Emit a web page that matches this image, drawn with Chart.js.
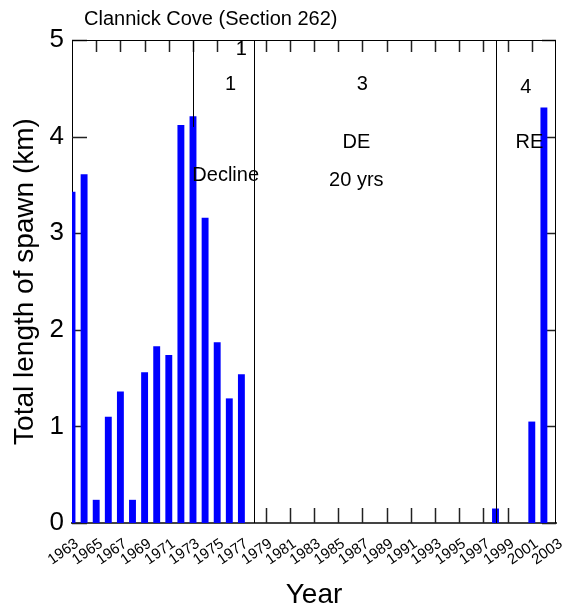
<!DOCTYPE html>
<html>
<head>
<meta charset="utf-8">
<script src="https://cdn.jsdelivr.net/npm/chart.js@4/dist/chart.umd.min.js"></script>
<style>
  html, body { margin: 0; padding: 0; background: #fff; }
  .chart-wrapper { position: relative; width: 565px; height: 609px; }
</style>
</head>
<body>
<div class="chart-wrapper"><canvas id="spawn-chart"></canvas></div>
<script>
const FONT = '"Liberation Sans", Arial, sans-serif';

const YEARS = [
  1963, 1964, 1965, 1966, 1967, 1968, 1969, 1970, 1971, 1972,
  1973, 1974, 1975, 1976, 1977, 1978, 1979, 1980, 1981, 1982,
  1983, 1984, 1985, 1986, 1987, 1988, 1989, 1990, 1991, 1992,
  1993, 1994, 1995, 1996, 1997, 1998, 1999, 2000, 2001, 2002,
];
const SPAWN_KM = [
  3.43, 3.61, 0.24, 1.10, 1.36, 0.24, 1.56, 1.83, 1.74, 4.12,
  4.21, 3.16, 1.87, 1.29, 1.54, 0, 0, 0, 0, 0,
  0, 0, 0, 0, 0, 0, 0, 0, 0, 0,
  0, 0, 0, 0, 0, 0.15, 0, 0, 1.05, 4.30,
];

const YEAR_MIN = 1963;
const YEAR_MAX = 2003;
const KM_MAX = 5;

// period dividers: year, top value, bottom value
const DIVIDER_YEARS = [1973, 1978, 1998];
const DIVIDER_BOTTOM = [4.1, 0, 0];

// text notes inside the plot
const NOTE_TEXT = ['1', '1', 'Decline', '3', 'DE', '20 yrs', '4', 'RE'];
const NOTE_YEAR = [1977, 1976.1, 1975.7, 1987, 1986.5, 1986.5, 2000.5, 2000.8];
const NOTE_KM = [4.9, 4.54, 3.60, 4.54, 3.94, 3.55, 4.51, 3.94];

const frame = {
  id: 'frame',
  beforeDatasetsDraw(chart) {
    const { ctx, chartArea: a, scales: { x, y } } = chart;
    ctx.save();
    ctx.strokeStyle = '#222';
    ctx.lineWidth = 1.5;
    ctx.beginPath();
    x.ticks.forEach(t => {
      if (t.value <= YEAR_MIN || t.value >= YEAR_MAX) return;
      const px = Math.round(x.getPixelForValue(t.value)) + 0.5;
      ctx.moveTo(px, a.top); ctx.lineTo(px, a.top + 12);
      ctx.moveTo(px, a.bottom); ctx.lineTo(px, a.bottom - 15);
    });
    y.ticks.forEach(t => {
      const py = Math.round(y.getPixelForValue(t.value)) + 0.5;
      ctx.moveTo(a.left, py); ctx.lineTo(a.left + 15, py);
      ctx.moveTo(a.right, py); ctx.lineTo(a.right - 14, py);
    });
    ctx.stroke();
    ctx.restore();
  },
  afterDatasetsDraw(chart) {
    const { ctx, chartArea: a, scales: { x, y } } = chart;
    ctx.save();
    ctx.strokeStyle = '#000';
    ctx.lineWidth = 1;
    ctx.beginPath();
    ctx.moveTo(a.left, a.top + 0.5); ctx.lineTo(a.right, a.top + 0.5);
    ctx.moveTo(a.right - 0.5, a.top); ctx.lineTo(a.right - 0.5, a.bottom);
    DIVIDER_YEARS.forEach((yr, i) => {
      const px = Math.round(x.getPixelForValue(yr)) + 0.5;
      ctx.moveTo(px, y.getPixelForValue(KM_MAX));
      ctx.lineTo(px, y.getPixelForValue(DIVIDER_BOTTOM[i]));
    });
    ctx.stroke();

    ctx.fillStyle = '#000';
    ctx.font = `20px ${FONT}`;
    ctx.textAlign = 'center';
    ctx.textBaseline = 'middle';
    NOTE_TEXT.forEach((txt, i) => {
      ctx.fillText(txt, x.getPixelForValue(NOTE_YEAR[i]), y.getPixelForValue(NOTE_KM[i]));
    });

    ctx.textAlign = 'left';
    ctx.textBaseline = 'alphabetic';
    ctx.fillText('Clannick Cove (Section 262)', 84, 25);
    ctx.restore();
  },
};

const ctx = document.getElementById('spawn-chart').getContext('2d');

new Chart(ctx, {
  type: 'bar',
  data: {
    datasets: [{
      data: YEARS.map((yr, i) => ({ x: yr, y: SPAWN_KM[i] })),
      backgroundColor: '#0000ff',
      borderWidth: 0,
      categoryPercentage: 1,
      barPercentage: 0.57,
    }],
  },
  options: {
    responsive: true,
    maintainAspectRatio: false,
    animation: false,
    devicePixelRatio: 1,
    layout: { padding: { top: 40, right: 9, left: 0, bottom: 0 } },
    plugins: {
      legend: { display: false },
      tooltip: { enabled: false },
    },
    scales: {
      x: {
        type: 'linear',
        min: YEAR_MIN,
        max: YEAR_MAX,
        offset: false,
        grid: { display: false, drawTicks: false, offset: false },
        border: { display: true, color: '#444', width: 2 },
        ticks: {
          stepSize: 2,
          autoSkip: false,
          minRotation: 35,
          maxRotation: 35,
          padding: 12,
          labelOffset: 5,
          color: '#000',
          font: { family: FONT, size: 15 },
          callback: v => String(v),
        },
        title: {
          display: true,
          text: 'Year',
          color: '#000',
          font: { family: FONT, size: 28 },
          padding: { top: 0, bottom: -3 },
        },
        afterFit: scale => {
          scale.height = 86;
          scale.paddingLeft = 0;
          scale.paddingRight = 0;
        },
      },
      y: {
        min: 0,
        max: KM_MAX,
        grid: { display: false, drawTicks: false },
        border: { display: true, color: '#000', width: 1 },
        ticks: {
          stepSize: 1,
          padding: 8,
          color: '#000',
          font: { family: FONT, size: 26 },
        },
        title: {
          display: true,
          text: 'Total length of spawn (km)',
          color: '#000',
          font: { family: FONT, size: 28 },
          padding: { top: 8, bottom: 0 },
        },
        afterFit: scale => { scale.width = 72; },
      },
    },
  },
  plugins: [frame],
});
</script>
</body>
</html>
